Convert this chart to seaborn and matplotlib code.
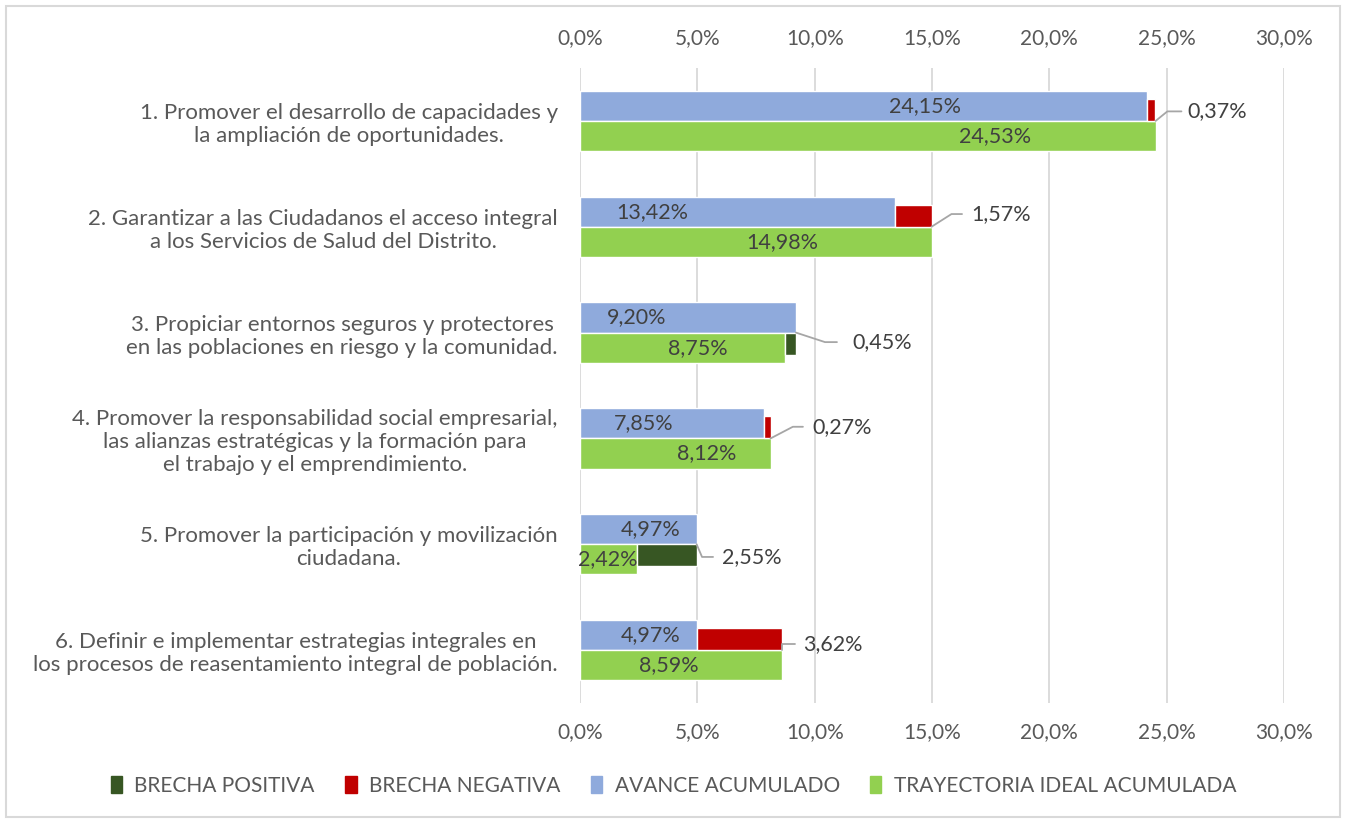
import numpy as np
import pandas as pd
import matplotlib
matplotlib.use('Agg')
import matplotlib.pyplot as plt
import seaborn as sns
from matplotlib.patches import Patch, Rectangle
from matplotlib.ticker import FuncFormatter

# datos
objetivos = [
    "1. Promover el desarrollo de capacidades y\nla ampliación de oportunidades.",
    "2. Garantizar a las Ciudadanos el acceso integral\na los Servicios de Salud del Distrito.",
    "3. Propiciar entornos seguros y protectores\nen las poblaciones en riesgo y la comunidad.",
    "4. Promover la responsabilidad social empresarial,\nlas alianzas estratégicas y la formación para\nel trabajo y el emprendimiento.",
    "5. Promover la participación y movilización\nciudadana.",
    "6. Definir e implementar estrategias integrales en\nlos procesos de reasentamiento integral de población.",
]
avance = [24.15, 13.42, 9.20, 7.85, 4.97, 4.97]
ideal = [24.53, 14.98, 8.75, 8.12, 2.42, 8.59]
brecha = [-0.37, -1.57, 0.45, -0.27, 2.55, -3.62]
ticks = [0, 5, 10, 15, 20, 25, 30]

# posiciones de etiquetas (estilo)
pos_avance = [14.7, 3.1, 2.4, 2.7, 3.0, 3.0]
pos_ideal = [17.7, 8.6, 5.0, 5.4, 1.2, 3.8]
# guia: dx codo, dy, dx fin, dx texto
guia = [(0.5, -0.09, 1.1, 1.35), (0.85, -0.12, 1.3, 1.7), (1.24, 0.09, 1.75, 2.4),
        (0.95, -0.11, 1.38, 1.8), (0.23, 0.12, 0.7, 1.08), (0.0, -0.06, 0.57, 0.9)]

AZUL = '#8FAADC'
VERDE = '#92D050'
ROJO = '#C00000'
VERDE_OSC = '#375623'
GRIS = '#595959'

sns.set_theme(style='white')
plt.rcParams['font.family'] = ['Lato', 'DejaVu Sans']

df = pd.DataFrame({
    'objetivo': objetivos * 2,
    'valor': avance + ideal,
    'serie': ['AVANCE ACUMULADO'] * 6 + ['TRAYECTORIA IDEAL ACUMULADA'] * 6,
})

fig = plt.figure(figsize=(13.47, 8.23), dpi=100)
ax = fig.add_axes([580 / 1347, 1 - 703 / 823, 704 / 1347, 635 / 823])

sns.barplot(data=df, y='objetivo', x='valor', hue='serie', orient='h',
            palette=[AZUL, VERDE], width=0.57, dodge=True, ax=ax,
            saturation=1, legend=False, zorder=2)

h = 0.21
for i, g in enumerate(brecha):
    if g < 0:
        ax.barh(i - h / 2, -g, left=avance[i], height=h, color=ROJO, zorder=3)
    else:
        ax.barh(i + h / 2, g, left=ideal[i], height=h, color=VERDE_OSC, zorder=3)

fmt = lambda v: f"{v:.2f}".replace('.', ',') + '%'
for i in range(6):
    ax.text(pos_avance[i], i - 0.1425, fmt(avance[i]), ha='center', va='center',
            fontsize=15.5, color='#404040', zorder=4)
    ax.text(pos_ideal[i], i + 0.1425, fmt(ideal[i]), ha='center', va='center',
            fontsize=15.5, color='#404040', zorder=4)
    x0 = max(avance[i], ideal[i])
    ex, dy, fx, tx = guia[i]
    ax.plot([x0, x0 + ex, x0 + fx], [i, i + dy, i + dy], color='#A6A6A6', lw=1.3,
            zorder=4, clip_on=False)
    ax.text(x0 + tx, i + dy, fmt(abs(brecha[i])), ha='left', va='center',
            fontsize=15.5, color='#404040', zorder=4)

ax.set_xlim(0, 30)
ax.set_ylim(5.5, -0.5)
ax.set_xticks(ticks)
ax.xaxis.set_major_formatter(FuncFormatter(lambda x, p: f"{x:.1f}".replace('.', ',') + '%'))
ax.grid(axis='x', color='#D9D9D9', lw=1.3, zorder=0)
ax.grid(axis='y', visible=False)
for s in ax.spines.values():
    s.set_visible(False)
ax.tick_params(axis='x', labeltop=True, labelbottom=True, length=0, pad=14,
               labelsize=15, labelcolor=GRIS)
ax.tick_params(axis='y', length=0, pad=16, labelsize=16, labelcolor=GRIS)
for t in ax.get_yticklabels():
    t.set_multialignment('center')
ax.set_xlabel('')
ax.set_ylabel('')

handles = [Patch(color=VERDE_OSC), Patch(color=ROJO), Patch(color=AZUL), Patch(color=VERDE)]
nombres = ['BRECHA POSITIVA', 'BRECHA NEGATIVA', 'AVANCE ACUMULADO', 'TRAYECTORIA IDEAL ACUMULADA']
leg = fig.legend(handles, nombres, loc='center', bbox_to_anchor=(0.5, 1 - 786 / 823), ncol=4,
                 frameon=False, fontsize=15, handlelength=0.55, handleheight=0.85,
                 handletextpad=0.6, columnspacing=1.45)
for t in leg.get_texts():
    t.set_color(GRIS)

fig.patches.append(Rectangle((6 / 1347, 6 / 823), 1334 / 1347, 811 / 823,
                             transform=fig.transFigure, fill=False,
                             edgecolor='#D9D9D9', lw=1.5))

fig.savefig('out.png', dpi=100)
